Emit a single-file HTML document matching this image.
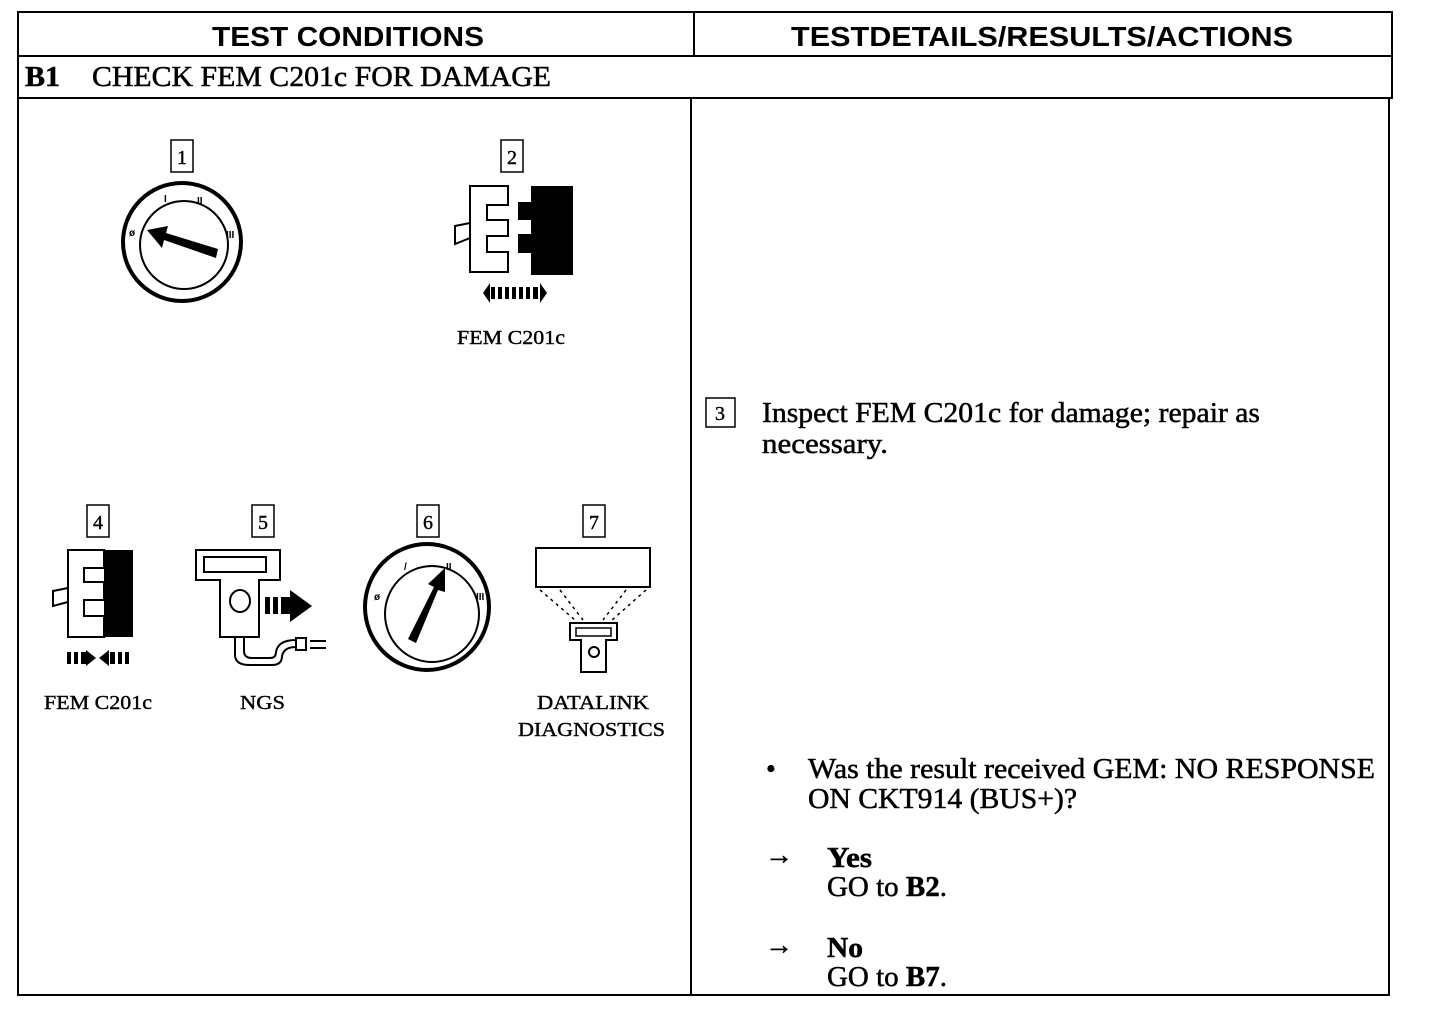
<!DOCTYPE html>
<html><head><meta charset="utf-8"><style>
html,body{margin:0;padding:0;background:#fff;width:1440px;height:1018px;overflow:hidden}
svg{display:block}
.h{font-family:"Liberation Sans",sans-serif;font-weight:bold;font-size:28px}
.s{font-family:"Liberation Serif",serif;font-size:28px;stroke:#000;stroke-width:0.5}
.sm{font-family:"Liberation Serif",serif;font-size:20px;stroke:#000;stroke-width:0.4}
</style></head><body>
<svg width="1440" height="1018" viewBox="0 0 1440 1018">
<g fill="none" stroke="#000" stroke-width="2">
<rect x="18" y="12" width="1374" height="44"/>
<line x1="694" y1="12" x2="694" y2="56"/>
<rect x="18" y="56" width="1374" height="42"/>
<rect x="18" y="98" width="1371" height="897"/>
<line x1="691" y1="98" x2="691" y2="995"/>
</g>
<text class="h" x="212" y="46" textLength="272" lengthAdjust="spacingAndGlyphs">TEST CONDITIONS</text>
<text class="h" x="791" y="46" textLength="502" lengthAdjust="spacingAndGlyphs">TESTDETAILS/RESULTS/ACTIONS</text>
<text class="s" x="25" y="86" font-weight="bold" textLength="35" lengthAdjust="spacingAndGlyphs">B1</text>
<text class="s" x="92" y="86" textLength="459" lengthAdjust="spacingAndGlyphs">CHECK FEM C201c FOR DAMAGE</text>

<g fill="none" stroke="#000" stroke-width="1.5">
<rect x="171" y="140" width="22" height="32"/>
<rect x="501" y="140" width="22" height="32"/>
<rect x="87" y="505" width="22" height="32"/>
<rect x="252" y="505" width="22" height="32"/>
<rect x="417" y="505" width="22" height="32"/>
<rect x="583" y="505" width="22" height="32"/>
<rect x="706" y="398" width="29" height="29"/>
</g>
<g class="sm" text-anchor="middle">
<text x="182" y="164">1</text><text x="512" y="164">2</text>
<text x="98" y="529">4</text><text x="263" y="529">5</text>
<text x="428" y="529">6</text><text x="594" y="529">7</text>
<text x="720" y="420">3</text>
</g>

<g fill="none" stroke="#000">
<circle cx="182" cy="242" r="59" stroke-width="4"/>
<circle cx="184" cy="245" r="44" stroke-width="2"/>
</g>
<path d="M218,249 L216,258 L164,240 L162,248 L147,230 L168,226 L166,233 Z" fill="#000"/>
<g font-family="Liberation Sans" font-size="10" font-weight="bold">
<text x="129" y="236">ø</text><text x="164" y="202">I</text><text x="197" y="204">II</text><text x="226" y="238">III</text>
</g>

<path d="M470,186 H508 V205 H487 V220 H508 V236 H487 V252 H508 V272 H470 Z" fill="none" stroke="#000" stroke-width="2"/>
<path d="M470,223 L455,226 V244 L470,238" fill="none" stroke="#000" stroke-width="2"/>
<path d="M531,186 H573 V275 H531 V253 H518 V234 H531 V220 H518 V202 H531 Z" fill="#000"/>
<g fill="#000"><path d="M483,293 L490,283 V303 Z"/><path d="M547,293 L540,283 V303 Z"/>
<rect x="491" y="287" width="4" height="12"/><rect x="498" y="287" width="4" height="12"/><rect x="505" y="287" width="4" height="12"/><rect x="512" y="287" width="4" height="12"/><rect x="519" y="287" width="4" height="12"/><rect x="526" y="287" width="4" height="12"/><rect x="533" y="287" width="5" height="12"/></g>
<text class="sm" x="457" y="344" textLength="108" lengthAdjust="spacingAndGlyphs">FEM C201c</text>

<path d="M68,550 H104 V637 H68 Z" fill="none" stroke="#000" stroke-width="2"/>
<path d="M104,550 H133 V637 H104 Z" fill="#000"/>
<path d="M104,568 H84 V582 H104 V600 H84 V616 H104" fill="#fff" stroke="#000" stroke-width="2"/>
<path d="M68,588 L53,591 V606 L68,602" fill="none" stroke="#000" stroke-width="2"/>
<g fill="#000"><rect x="67" y="652" width="4" height="12"/><rect x="74" y="652" width="4" height="12"/><rect x="81" y="652" width="5" height="12"/><path d="M86,650 L96,658 L86,666Z"/>
<path d="M109,650 L99,658 L109,666Z"/><rect x="110" y="652" width="5" height="12"/><rect x="118" y="652" width="4" height="12"/><rect x="125" y="652" width="4" height="12"/></g>
<text class="sm" x="44" y="709" textLength="108" lengthAdjust="spacingAndGlyphs">FEM C201c</text>

<path d="M196,550 H280 V580 H259 V637 H220 V580 H196 Z" fill="none" stroke="#000" stroke-width="2"/>
<rect x="204" y="557" width="62" height="15" fill="none" stroke="#000" stroke-width="2"/>
<ellipse cx="240" cy="601" rx="10" ry="11" fill="none" stroke="#000" stroke-width="2"/>
<g fill="#000"><rect x="265" y="597" width="5" height="17"/><rect x="273" y="597" width="5" height="17"/><rect x="281" y="597" width="9" height="17"/><path d="M290,590 L312,606 L290,622Z"/></g>
<path d="M235,637 V655 Q235,665 250,665 H272 Q282,665 282,656 Q284,647 296,647 M244,637 V651 Q244,658 252,658 H270 Q276,658 276,652 Q278,640 296,640 M296,638 V650 H306 V638 Z M310,641 H326 M310,648 H326" fill="none" stroke="#000" stroke-width="2"/>
<text class="sm" x="240" y="709" textLength="45" lengthAdjust="spacingAndGlyphs">NGS</text>

<g fill="none" stroke="#000">
<ellipse cx="427" cy="607" rx="62" ry="63" stroke-width="4"/>
<ellipse cx="432" cy="614" rx="47" ry="48" stroke-width="2"/>
</g>
<path d="M408,639 L416,643 L438,590 L445,592 L445,568 L428,584 L434,587 Z" fill="#000"/>
<g font-family="Liberation Sans" font-size="10" font-weight="bold">
<text x="374" y="600">ø</text><text x="404" y="570">/</text><text x="446" y="570">II</text><text x="476" y="600">III</text>
</g>

<rect x="536" y="548" width="114" height="39" fill="none" stroke="#000" stroke-width="2"/>
<g stroke="#000" stroke-width="1.5" stroke-dasharray="3,4" fill="none">
<line x1="540" y1="590" x2="575" y2="620"/><line x1="560" y1="590" x2="583" y2="620"/>
<line x1="646" y1="590" x2="612" y2="620"/><line x1="626" y1="590" x2="603" y2="620"/>
</g>
<path d="M570,623 H617 V640 H606 V672 H581 V640 H570 Z" fill="none" stroke="#000" stroke-width="2"/>
<rect x="576" y="628" width="35" height="8" fill="none" stroke="#000" stroke-width="1.5"/>
<circle cx="594" cy="652" r="5" fill="none" stroke="#000" stroke-width="2"/>
<text class="sm" x="537" y="709" textLength="112" lengthAdjust="spacingAndGlyphs">DATALINK</text>
<text class="sm" x="518" y="736" textLength="147" lengthAdjust="spacingAndGlyphs">DIAGNOSTICS</text>

<text class="s" x="762" y="422" textLength="498" lengthAdjust="spacingAndGlyphs">Inspect FEM C201c for damage; repair as</text>
<text class="s" x="762" y="453" textLength="126" lengthAdjust="spacingAndGlyphs">necessary.</text>
<text class="s" x="766" y="778">•</text>
<text class="s" x="808" y="778" textLength="567" lengthAdjust="spacingAndGlyphs">Was the result received GEM: NO RESPONSE</text>
<text class="s" x="808" y="808" textLength="269" lengthAdjust="spacingAndGlyphs">ON CKT914 (BUS+)?</text>
<text class="s" x="765" y="864" font-size="22">→</text>
<text class="s" x="827" y="867" font-weight="bold" textLength="45" lengthAdjust="spacingAndGlyphs">Yes</text>
<text class="s" x="827" y="896" textLength="120" lengthAdjust="spacingAndGlyphs">GO to <tspan font-weight="bold">B2</tspan>.</text>
<text class="s" x="765" y="954" font-size="22">→</text>
<text class="s" x="827" y="957" font-weight="bold" textLength="36" lengthAdjust="spacingAndGlyphs">No</text>
<text class="s" x="827" y="986" textLength="120" lengthAdjust="spacingAndGlyphs">GO to <tspan font-weight="bold">B7</tspan>.</text>
</svg>
</body></html>
